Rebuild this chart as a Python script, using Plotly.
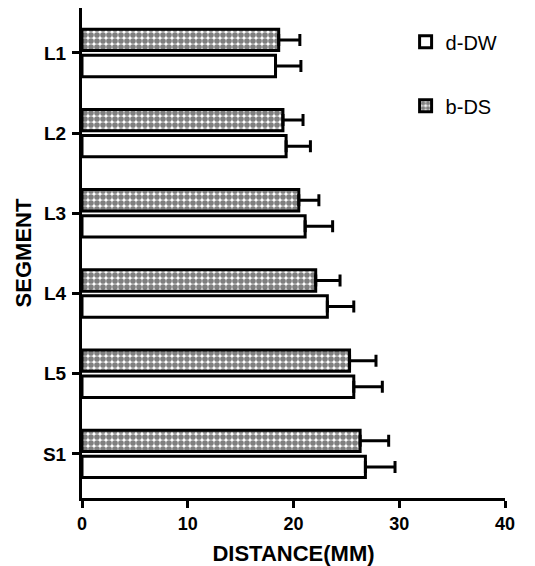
import plotly.graph_objects as go

segments = ["L1", "L2", "L3", "L4", "L5", "S1"]
d_dw_mean = [18.3, 19.3, 21.1, 23.2, 25.7, 26.8]
d_dw_sd = [2.4, 2.3, 2.6, 2.5, 2.7, 2.8]
b_ds_mean = [18.6, 19.0, 20.5, 22.1, 25.3, 26.3]
b_ds_sd = [2.0, 1.9, 1.9, 2.3, 2.5, 2.7]
x_ticks = [0, 10, 20, 30, 40]

FONT = "Liberation Sans, Arial, sans-serif"

err_style = dict(type="data", symmetric=False, thickness=3, width=6, color="black")

fig = go.Figure()
fig.add_trace(go.Bar(
    y=segments, x=b_ds_mean, orientation="h", name="b-DS", legendrank=2,
    legendgroup="b",
    marker=dict(color="white", line=dict(color="black", width=3),
                pattern=dict(shape=".", fgcolor="black", bgcolor="white",
                             size=6, solidity=0.7, fillmode="overlay")),
    error_x=dict(array=b_ds_sd, arrayminus=[0] * len(b_ds_sd), **err_style),
))
fig.add_trace(go.Bar(
    y=segments, x=d_dw_mean, orientation="h", name="d-DW", legendrank=1,
    legendgroup="a",
    marker=dict(color="white", line=dict(color="black", width=3)),
    error_x=dict(array=d_dw_sd, arrayminus=[0] * len(d_dw_sd), **err_style),
))

fig.update_layout(
    width=527, height=558,
    margin=dict(l=74, r=30, t=0, b=68),
    paper_bgcolor="white", plot_bgcolor="white",
    barmode="group", bargap=0.35, bargroupgap=0.18,
    font=dict(family=FONT, color="black"),
    showlegend=True,
    legend=dict(x=0.765, y=0.971, xanchor="left", yanchor="top",
                font=dict(size=20, family=FONT), tracegroupgap=35,
                bgcolor="rgba(0,0,0,0)"),
    xaxis=dict(range=[0, 40], tickvals=x_ticks, showgrid=False, zeroline=False,
               automargin=False,
               showline=True, linecolor="black", linewidth=3,
               ticks="outside", ticklen=7, tickwidth=3, tickcolor="black",
               tickfont=dict(size=18, family=FONT, weight="bold"),
               title=dict(text="<b>DISTANCE(MM)</b>", font=dict(size=22), standoff=18)),
    yaxis=dict(type="category", categoryorder="array", categoryarray=segments,
               automargin=False,
               range=[5.55, -0.56], showgrid=False, zeroline=False,
               showline=True, linecolor="black", linewidth=3,
               ticks="outside", ticklen=7, tickwidth=3, tickcolor="black",
               ticklabelstandoff=2,
               tickfont=dict(size=19, family=FONT, weight="bold"),
               title=dict(text="<b>SEGMENT</b>", font=dict(size=22), standoff=6)),
)

fig.write_html("out.html")
